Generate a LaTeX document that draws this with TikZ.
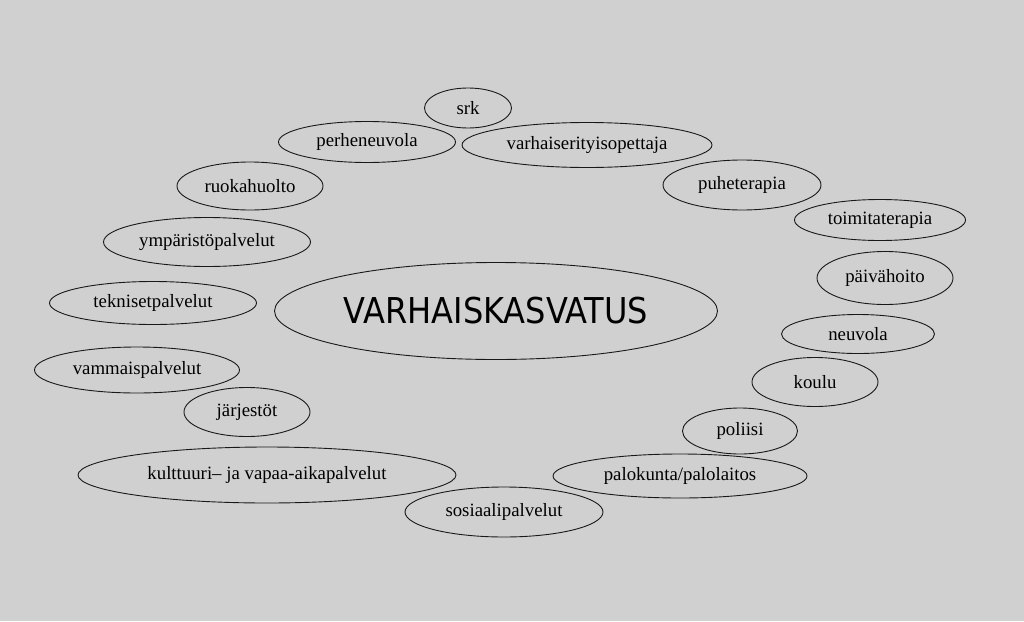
\documentclass[tikz,border=0pt]{standalone}
\usepackage{fontspec}
\setmainfont{Liberation Serif}
\newfontfamily\titlefont{DejaVu Sans Condensed}
\usetikzlibrary{shapes.geometric}
\definecolor{bg}{RGB}{208,208,208}
\definecolor{ln}{RGB}{25,25,25}
\tikzset{
  el/.style={ellipse, draw=ln, line width=0.9pt, fill=bg, inner sep=0pt,
    font=\fontsize{18.8}{20}\selectfont, text=black},
  titleel/.style={el, font=\titlefont\fontsize{35.6}{38}\selectfont}
}
\begin{document}
\begin{tikzpicture}[x=1pt,y=-1pt]
\fill[bg] (0,0) rectangle (1024,621);
\useasboundingbox (0,0) rectangle (1024,621);
\node[titleel, minimum width=443pt, minimum height=97pt] (main) at (496,311) {VARHAISKASVATUS};
\node[el, minimum width=87pt, minimum height=40pt] (srk) at (468,108) {srk};
\node[el, minimum width=177pt, minimum height=41pt] (perhe) at (367,142) {perheneuvola};
\node[el, minimum width=250pt, minimum height=45pt] (vaer) at (587,145) {varhaiserityisopettaja};
\node[el, minimum width=146pt, minimum height=48pt] (ruoka) at (250,186) {ruokahuolto};
\node[el, minimum width=207pt, minimum height=49pt] (ymp) at (207,242) {ympäristöpalvelut};
\node[el, minimum width=207pt, minimum height=43pt] (tekn) at (153,303) {teknisetpalvelut};
\node[el, minimum width=205pt, minimum height=46pt] (vamm) at (137,370) {vammaispalvelut};
\node[el, minimum width=126pt, minimum height=49pt] (jarj) at (247,412) {järjestöt};
\node[el, minimum width=378pt, minimum height=56pt] (kult) at (267,475) {kulttuuri– ja vapaa-aikapalvelut};
\node[el, minimum width=158pt, minimum height=50pt] (puhe) at (742,185) {puheterapia};
\node[el, minimum width=171pt, minimum height=41pt] (toim) at (880,220) {toimitaterapia};
\node[el, minimum width=136pt, minimum height=53pt] (paiva) at (885,278) {päivähoito};
\node[el, minimum width=153pt, minimum height=39pt] (neuv) at (858,334) {neuvola};
\node[el, minimum width=126pt, minimum height=49pt] (koulu) at (815,382) {koulu};
\node[el, minimum width=115pt, minimum height=46pt] (pol) at (740,431) {poliisi};
\node[el, minimum width=254pt, minimum height=44pt] (palo) at (680,476) {palokunta/palolaitos};
\node[el, minimum width=198pt, minimum height=50pt] (sos) at (504,512) {sosiaalipalvelut};
\end{tikzpicture}
\end{document}
